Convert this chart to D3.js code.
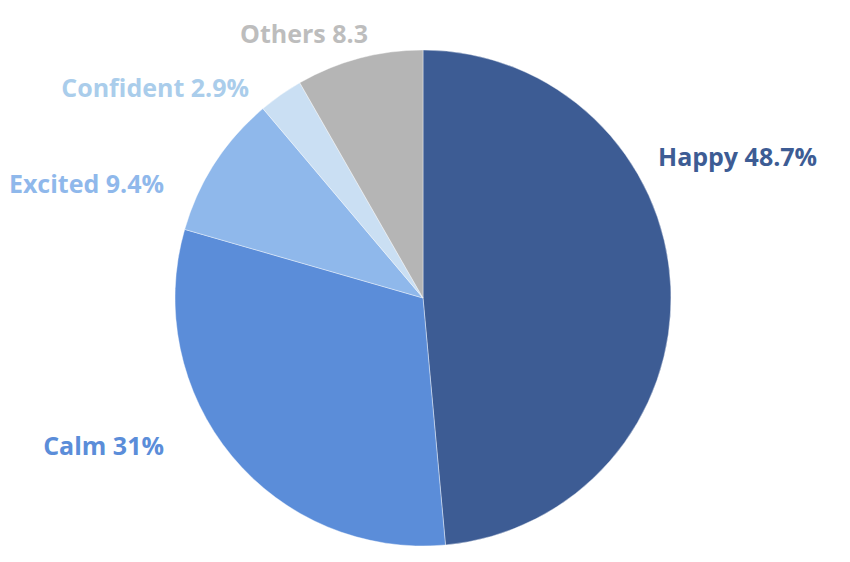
<!DOCTYPE html>
<html>
<head>
<meta charset="utf-8">
<script src="https://cdn.jsdelivr.net/npm/d3@7"></script>
<style>
	body { margin: 0; background: #fff; }
	text { font-family: 'Open Sans', Lato, sans-serif; font-weight: 700; }
</style>
</head>
<body>
<script>
const categories = ['Happy', 'Calm', 'Excited', 'Confident', 'Others']
const values = [48.7, 31, 9.4, 2.9, 8.3]
const labels = ['Happy 48.7%', 'Calm 31%', 'Excited 9.4%', 'Confident 2.9%', 'Others 8.3']
const colors = ['#3d5c94', '#5b8dd9', '#8fb8eb', '#cadff3', '#b5b5b5']
const labelColors = ['#3d5c94', '#5b8dd9', '#8fb8eb', '#aacdeb', '#bdbdbd']
// label anchor spots (layout only)
const labelSpots = [[658, 166, 'start'], [164, 455, 'end'], [164, 193, 'end'], [249, 97, 'end'], [368, 43, 'end']]

const width = 850
const height = 562
const cx = 423
const cy = 298
const radius = 248

const svg = d3.select('body').append('svg').attr('width', width).attr('height', height)

const data = categories.map((c, i) => ({ name: c, value: values[i], label: labels[i], i: i }))

const pie = d3.pie().sort(null).value(d => d.value)
const arc = d3.arc().innerRadius(0).outerRadius(radius)

const body = svg.append('g').attr('transform', 'translate(' + cx + ',' + cy + ')')

body.selectAll('path')
	.data(pie(data))
	.enter()
	.append('path')
	.attr('d', arc)
	.attr('fill', d => colors[d.data.i])
	.attr('stroke', '#fff')
	.attr('stroke-width', 0.4)

svg.selectAll('text.lbl')
	.data(data)
	.enter()
	.append('text')
	.attr('class', 'lbl')
	.attr('x', d => labelSpots[d.i][0])
	.attr('y', d => labelSpots[d.i][1])
	.attr('text-anchor', d => labelSpots[d.i][2])
	.attr('fill', d => labelColors[d.i])
	.attr('font-size', 25)
	.text(d => d.label)
</script>
</body>
</html>
